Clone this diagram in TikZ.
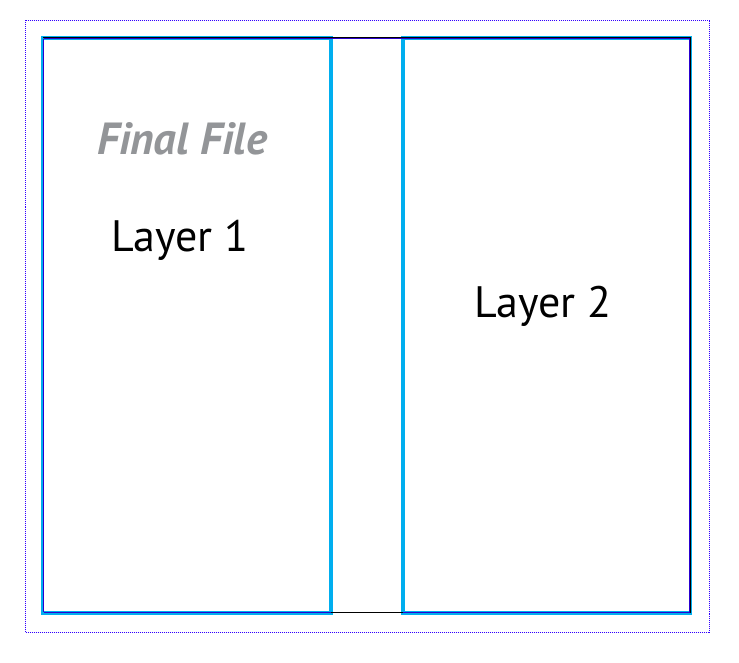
\documentclass[tikz,border=0pt]{standalone}
\usepackage{fontspec}
\setmainfont{PT Sans}
\usepackage{tikz}
\usetikzlibrary{positioning}
\usepackage{xcolor}
\definecolor{frameblue}{HTML}{3300FF}
\definecolor{edgeblue}{HTML}{2A00D0}
\definecolor{panelcyan}{HTML}{00AEEF}
\definecolor{titlegray}{HTML}{939598}

\begin{document}
\begin{tikzpicture}[x=1pt, y=-1pt,
    panel/.style={draw=panelcyan, line width=3.5pt},
    layertext/.style={text=black, font=\fontsize{44}{48}\selectfont, inner sep=0pt}]
    \useasboundingbox (0,0) rectangle (739,663);
    % page bounds
    \draw[frameblue, densely dotted, line width=1pt] (25.5,20.5) rectangle (709.5,632.5);
    % two panels
    \draw[panel] (42.5,38) rectangle (331,613);
    \draw[panel] (403,38) rectangle (690.5,613);
    \draw[edgeblue, line width=1pt] (43.5,38.8) -- (689.4,38.8) -- (689.4,612.4) -- (43.5,612.4);
    \draw[edgeblue, line width=0.6pt] (43.6,38.8) -- (43.6,612.4);
    \draw[black, line width=0.8pt] (43,37.4) -- (690.2,37.4) -- (690.2,612.8);
    \draw[black, line width=0.8pt] (331,612.8) -- (403,612.8);
    % labels
    \node[text=titlegray, font=\fontsize{45}{50}\selectfont\bfseries\itshape, inner sep=0pt]
      (title) at (182,139) {Final File};
    \node[layertext] (layerone) at (180,240) {Layer 1};
    \node[layertext] (layertwo) at (543,306) {Layer 2};
  \end{tikzpicture}
\end{document}
